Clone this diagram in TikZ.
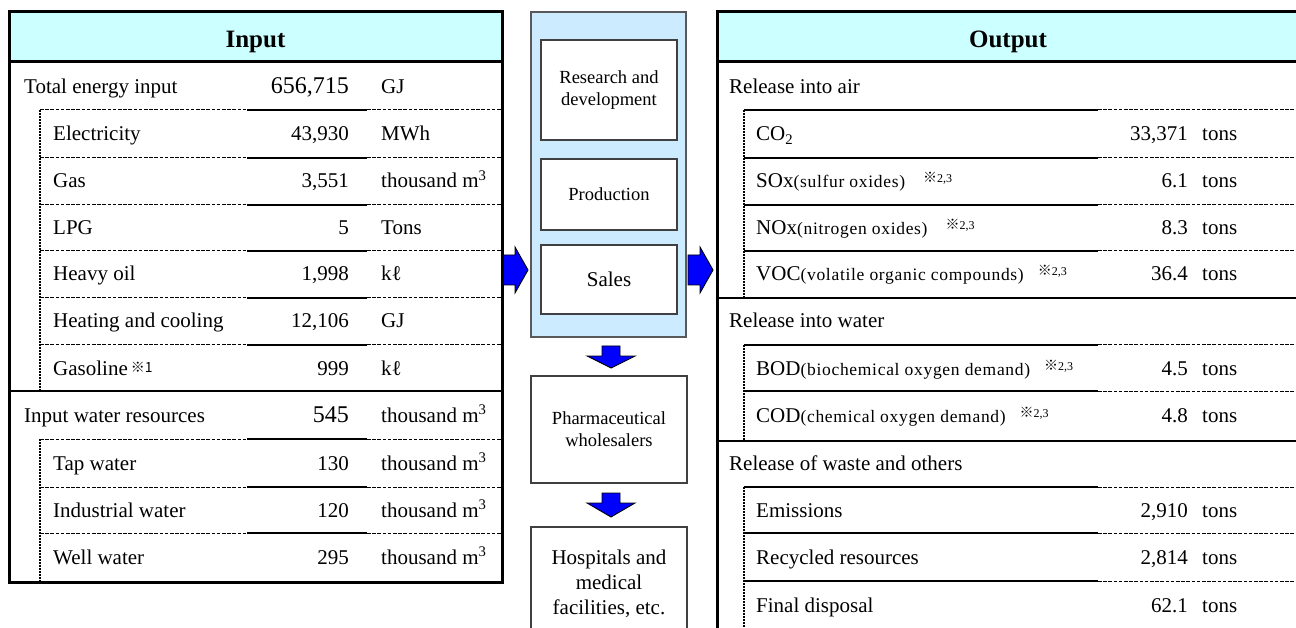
\documentclass[tikz,border=0pt]{standalone}
\usepackage{fontspec}
\setmainfont{Liberation Serif}
\newfontfamily\cjkfont{Noto Sans CJK JP}
\newfontfamily\parenfont[LetterSpace=4]{Liberation Serif}
\definecolor{hdrcyan}{HTML}{CCFFFF}
\definecolor{procblue}{HTML}{CCEBFF}
\definecolor{arrowblue}{HTML}{0000FF}
\definecolor{boxline}{HTML}{404040}
\newcommand{\komeA}{\raisebox{3pt}{\fontsize{14}{14}\selectfont\cjkfont ※1}}
\newcommand{\komeB}{\raisebox{5pt}{{\fontsize{14}{14}\selectfont\cjkfont ※}{\fontsize{12}{12}\selectfont 2,3}}}
\newcommand{\paren}[1]{{\fontsize{17.5}{20}\parenfont #1}}
\tikzset{
  panel/.style={line width=3pt},
  rowdash/.style={line width=1pt, dash pattern=on 3.5pt off 1.7pt},
  rowsolid/.style={line width=1.5pt},
  vdash/.style={line width=1.8pt, dash pattern=on 2pt off 1pt},
  sep/.style={line width=2.2pt},
  lab/.style={anchor=base west, inner sep=0pt, font=\fontsize{21}{25}\selectfont},
  num/.style={anchor=base east, inner sep=0pt, font=\fontsize{21}{25}\selectfont},
  bignum/.style={anchor=base east, inner sep=0pt, font=\fontsize{24}{28}\selectfont},
  hdr/.style={anchor=base, inner sep=0pt, font=\fontsize{25}{30}\selectfont\bfseries},
  procbox/.style={draw=boxline, fill=white, line width=1.4pt, align=center, inner sep=0pt, font=\fontsize{18.5}{22}\selectfont},
  blockarrow/.style={fill=arrowblue, draw=black, line width=0.9pt, line join=miter},
}
\begin{document}
\begin{tikzpicture}[x=1pt,y=-1pt]
\useasboundingbox (0,0) rectangle (1296,628);
\clip (0,0) rectangle (1296,628);
\fill[white] (0,0) rectangle (1296,628);

% ---------------- middle column ----------------
\node[draw=gray!70!black, fill=procblue, line width=1.2pt, minimum width=155pt, minimum height=325pt, inner sep=0pt] (proc) at (608.5,174.5) {};
\node[procbox, minimum width=136pt, minimum height=100pt] (rd) at (609,90) {Research and\\development};
\node[procbox, minimum width=136pt, minimum height=71pt] (prod) at (609,194.5) {Production};
\node[procbox, minimum width=136pt, minimum height=69pt, font=\fontsize{21}{25}\selectfont] (sales) at (609,279.5) {Sales};
\node[procbox, minimum width=156pt, minimum height=107pt] (whole) at (609,429.5) {Pharmaceutical\\wholesalers};
\node[procbox, minimum width=156pt, minimum height=113pt, font=\fontsize{21}{25}\selectfont] (hosp) at (609,583.5) {Hospitals and\\medical\\facilities, etc.};

% block arrows
\draw[blockarrow] (503,255) -- (515,255) -- (515,247) -- (528,270) -- (515,293) -- (515,285) -- (503,285) -- cycle;
\draw[blockarrow] (688,255) -- (700,255) -- (700,247) -- (713,270) -- (700,293) -- (700,285) -- (688,285) -- cycle;
\draw[blockarrow] (602,346) -- (620,346) -- (620,356) -- (635,356) -- (611,368) -- (587,356) -- (602,356) -- cycle;
\draw[blockarrow] (602,493) -- (620,493) -- (620,503) -- (635,503) -- (611,517) -- (587,503) -- (602,503) -- cycle;

% ---------------- left panel ----------------
\fill[hdrcyan] (9,12) rectangle (502,62);
\foreach \y in {110,158,205,251,298,345,439,487,533} {
  \draw[rowdash] (40,\y) -- (247,\y);
  \draw[rowsolid] (247,\y) -- (367,\y);
  \draw[rowdash] (367,\y) -- (502,\y);
}
\draw[vdash] (40,110) -- (40,391);
\draw[vdash] (40,439) -- (40,582);
\draw[sep] (9,391) -- (502,391);
\draw[panel] (9,62) -- (502,62);
\draw[panel] (9,12) rectangle (502,582);

\node[hdr] (inh) at (255.5,48) {Input};
\node[lab] (l1) at (24,94) {Total energy input};
\node[bignum] (l1n) at (349,94) {656,715};
\node[lab] (l1u) at (381,94) {GJ};
\node[lab] (l2) at (53,141) {Electricity};
\node[num] (l2n) at (349,141) {43,930};
\node[lab] (l2u) at (381,141) {MWh};
\node[lab] (l3) at (53,188) {Gas};
\node[num] (l3n) at (349,188) {3,551};
\node[lab] (l3u) at (381,188) {thousand m\textsuperscript{3}};
\node[lab] (l4) at (53,235) {LPG};
\node[num] (l4n) at (349,235) {5};
\node[lab] (l4u) at (381,235) {Tons};
\node[lab] (l5) at (53,281) {Heavy oil};
\node[num] (l5n) at (349,281) {1,998};
\node[lab] (l5u) at (381,281) {kℓ};
\node[lab] (l6) at (53,328) {Heating and cooling};
\node[num] (l6n) at (349,328) {12,106};
\node[lab] (l6u) at (381,328) {GJ};
\node[lab] (l7) at (53,375) {Gasoline\hspace{3pt}\komeA};
\node[num] (l7n) at (349,375) {999};
\node[lab] (l7u) at (381,375) {kℓ};
\node[lab] (l8) at (24,422) {Input water resources};
\node[bignum] (l8n) at (349,422) {545};
\node[lab] (l8u) at (381,422) {thousand m\textsuperscript{3}};
\node[lab] (l9) at (53,470) {Tap water};
\node[num] (l9n) at (349,470) {130};
\node[lab] (l9u) at (381,470) {thousand m\textsuperscript{3}};
\node[lab] (l10) at (53,517) {Industrial water};
\node[num] (l10n) at (349,517) {120};
\node[lab] (l10u) at (381,517) {thousand m\textsuperscript{3}};
\node[lab] (l11) at (53,564) {Well water};
\node[num] (l11n) at (349,564) {295};
\node[lab] (l11u) at (381,564) {thousand m\textsuperscript{3}};

% ---------------- right panel ----------------
\fill[hdrcyan] (717,12) rectangle (1300,62);
\foreach \y in {110,158,205,251,345,391,487,533,581} {
  \draw[rowsolid] (744,\y) -- (1098,\y);
  \draw[rowdash] (1098,\y) -- (1300,\y);
}
\draw[vdash] (744,110) -- (744,298);
\draw[vdash] (744,345) -- (744,441);
\draw[vdash] (744,487) -- (744,640);
\draw[sep] (717,298) -- (1300,298);
\draw[sep] (717,441) -- (1300,441);
\draw[panel] (717,62) -- (1300,62);
\draw[panel] (717,12) rectangle (1300,660);

\node[hdr] (outh) at (1008,48) {Output};
\node[lab] (r1) at (729,94) {Release into air};
\node[lab] (r2) at (756,141) {CO\textsubscript{2}};
\node[num] (r2n) at (1188,141) {33,371};
\node[lab] (r2u) at (1202,141) {tons};
\node[lab] (r3) at (756,188) {SOx\paren{(sulfur oxides)}\hspace{18pt}\komeB};
\node[num] (r3n) at (1188,188) {6.1};
\node[lab] (r3u) at (1202,188) {tons};
\node[lab] (r4) at (756,235) {NOx\paren{(nitrogen oxides)}\hspace{18pt}\komeB};
\node[num] (r4n) at (1188,235) {8.3};
\node[lab] (r4u) at (1202,235) {tons};
\node[lab] (r5) at (756,281) {VOC\paren{(volatile organic compounds)}\hspace{14pt}\komeB};
\node[num] (r5n) at (1188,281) {36.4};
\node[lab] (r5u) at (1202,281) {tons};
\node[lab] (r6) at (729,328) {Release into water};
\node[lab] (r7) at (756,375) {BOD\paren{(biochemical oxygen demand)}\hspace{14pt}\komeB};
\node[num] (r7n) at (1188,375) {4.5};
\node[lab] (r7u) at (1202,375) {tons};
\node[lab] (r8) at (756,422) {COD\paren{(chemical oxygen demand)}\hspace{14pt}\komeB};
\node[num] (r8n) at (1188,422) {4.8};
\node[lab] (r8u) at (1202,422) {tons};
\node[lab] (r9) at (729,470) {Release of waste and others};
\node[lab] (r10) at (756,517) {Emissions};
\node[num] (r10n) at (1188,517) {2,910};
\node[lab] (r10u) at (1202,517) {tons};
\node[lab] (r11) at (756,564) {Recycled resources};
\node[num] (r11n) at (1188,564) {2,814};
\node[lab] (r11u) at (1202,564) {tons};
\node[lab] (r12) at (756,612) {Final disposal};
\node[num] (r12n) at (1188,612) {62.1};
\node[lab] (r12u) at (1202,612) {tons};
\end{tikzpicture}
\end{document}
